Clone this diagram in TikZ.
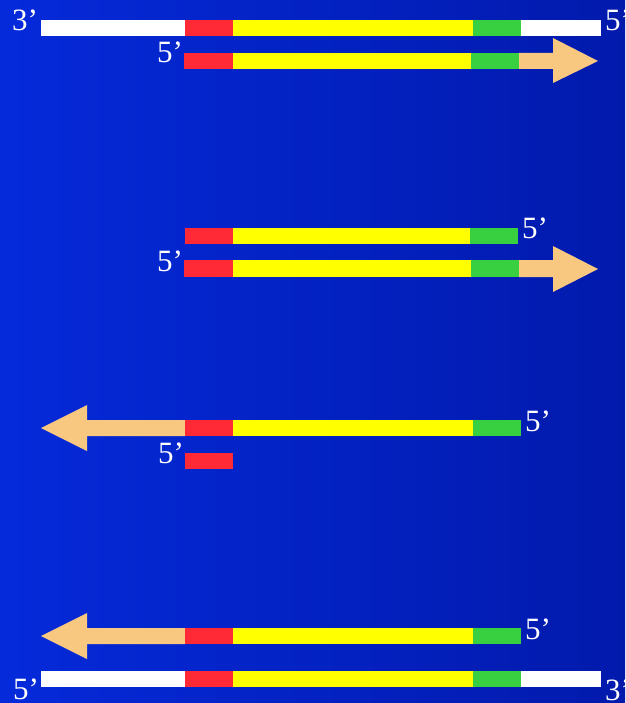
\documentclass[tikz,border=0pt]{standalone}
\usepackage{fontspec}
\setmainfont{Liberation Serif}
\definecolor{bgL}{RGB}{5,42,218}
\definecolor{bgR}{RGB}{2,26,172}
\definecolor{cred}{RGB}{255,42,54}
\definecolor{cyel}{RGB}{255,255,0}
\definecolor{cgrn}{RGB}{56,208,64}
\definecolor{ctan}{RGB}{248,200,128}
\tikzset{
  seg/.style={fill=#1, draw=none},
  arr/.style={fill=ctan, draw=none},
  lbl/.style={text=white, font=\fontsize{31}{31}\selectfont, inner sep=0pt, anchor=base west},
}
\begin{document}
\begin{tikzpicture}[x=1pt,y=-1pt]
\useasboundingbox (0,0) rectangle (625,703);
\clip (0,0) rectangle (625,703);
\shade[left color=bgL, right color=bgR] (0,0) rectangle (625,703);

% row 1: template strand 3'->5'
\fill[seg=white] (41,20) rectangle (185,36);
\fill[seg=cred] (185,20) rectangle (233,36);
\fill[seg=cyel] (233,20) rectangle (473,36);
\fill[seg=cgrn] (473,20) rectangle (521,36);
\fill[seg=white] (521,20) rectangle (601,36);
\node[lbl] (l1a) at (12,31) {3’};
\node[lbl] (l1b) at (605,31) {5’};

% row 2: primer extended to right
\fill[arr] (519,53) -- (553,53) -- (553,38) -- (598,61) -- (553,83) -- (553,69) -- (519,69) -- cycle;
\fill[seg=cred] (184,53) rectangle (233,69);
\fill[seg=cyel] (233,53) rectangle (471,69);
\fill[seg=cgrn] (471,53) rectangle (519,69);
\node[lbl] (l2) at (157,63) {5’};

% row 3
\fill[seg=cred] (185,228) rectangle (233,244);
\fill[seg=cyel] (233,228) rectangle (470,244);
\fill[seg=cgrn] (470,228) rectangle (518,244);
\node[lbl] (l3) at (522,238) {5’};

% row 4
\fill[arr] (519,260) -- (553,260) -- (553,246) -- (598,269) -- (553,292) -- (553,277) -- (519,277) -- cycle;
\fill[seg=cred] (184,260) rectangle (233,277);
\fill[seg=cyel] (233,260) rectangle (471,277);
\fill[seg=cgrn] (471,260) rectangle (519,277);
\node[lbl] (l4) at (157,271) {5’};

% row 5
\fill[arr] (185,420) -- (87,420) -- (87,405) -- (41,428) -- (87,451) -- (87,436) -- (185,436) -- cycle;
\fill[seg=cred] (185,420) rectangle (233,436);
\fill[seg=cyel] (233,420) rectangle (473,436);
\fill[seg=cgrn] (473,420) rectangle (521,436);
\node[lbl] (l5) at (525,431) {5’};

% row 6
\fill[seg=cred] (185,453) rectangle (233,469);
\node[lbl] (l6) at (158,463) {5’};

% row 7
\fill[arr] (185,628) -- (87,628) -- (87,613) -- (41,636) -- (87,659) -- (87,644) -- (185,644) -- cycle;
\fill[seg=cred] (185,628) rectangle (233,644);
\fill[seg=cyel] (233,628) rectangle (473,644);
\fill[seg=cgrn] (473,628) rectangle (521,644);
\node[lbl] (l7) at (525,639) {5’};

% row 8
\fill[seg=white] (41,671) rectangle (185,687);
\fill[seg=cred] (185,671) rectangle (233,687);
\fill[seg=cyel] (233,671) rectangle (473,687);
\fill[seg=cgrn] (473,671) rectangle (521,687);
\fill[seg=white] (521,671) rectangle (601,687);
\node[lbl] (l8a) at (13,699) {5’};
\node[lbl] (l8b) at (605,700) {3’};
\end{tikzpicture}
\end{document}
